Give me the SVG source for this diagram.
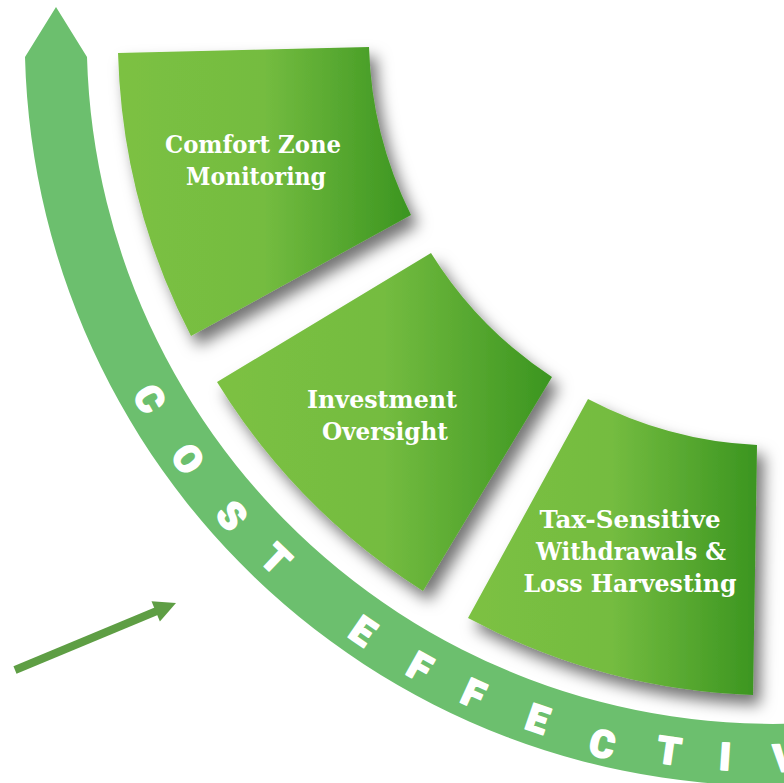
<svg xmlns="http://www.w3.org/2000/svg" width="784" height="783" viewBox="0 0 784 783">
  <style>
    .tile { fill: url(#tg); filter: url(#sh); }
    .lbl { font-family: "DejaVu Serif", "Liberation Serif", serif; font-weight: bold; font-size: 24px; fill: #ffffff; text-anchor: middle; }
    .band { fill: #6cbf6e; }
    .ltr { font-family: Roboto, "Open Sans", "DejaVu Sans", sans-serif; font-weight: 900; font-size: 38px; fill: #ffffff; stroke: #ffffff; stroke-width: 1.6px; stroke-linejoin: round; text-anchor: middle; }
  </style>
  <defs>
    <linearGradient id="tg" x1="0" y1="0" x2="1" y2="0">
      <stop offset="0" stop-color="#7cc143"/>
      <stop offset="0.5" stop-color="#74bc40"/>
      <stop offset="1" stop-color="#3b9520"/>
    </linearGradient>
    <filter id="sh" x="-20%" y="-20%" width="150%" height="150%">
      <feDropShadow dx="7" dy="10" stdDeviation="7.5" flood-color="#000000" flood-opacity="0.55"/>
    </filter>
  </defs>
  <rect width="784" height="783" fill="#ffffff"/>

  <g id="band">
    <path class="band" d="M25,57 L56,7 L87,57 A686,686 0 0 0 891.1,713.6 L901.9,774.6 A748,748 0 0 1 25,57 Z"/>
    <g id="band-label">
      <text class="ltr" transform="translate(149.7,398.8) rotate(59.83)" y="13.5">C</text>
      <text class="ltr" transform="translate(188.0,458.8) rotate(54.23)" y="13.5">O</text>
      <text class="ltr" transform="translate(231.8,515.4) rotate(48.56)" y="13.5">S</text>
      <text class="ltr" transform="translate(276.0,559.0) rotate(43.59)" y="13.5">T</text>
      <text class="ltr" transform="translate(362.8,631.0) rotate(34.55)" y="13.5">E</text>
      <text class="ltr" transform="translate(419.9,666.8) rotate(29.23)" y="13.5">F</text>
      <text class="ltr" transform="translate(473.5,693.4) rotate(24.47)" y="13.5">F</text>
      <text class="ltr" transform="translate(537.6,718.7) rotate(19.00)" y="13.5">E</text>
      <text class="ltr" transform="translate(602.2,743.7) rotate(13.56)" y="13.5">C</text>
      <text class="ltr" transform="translate(669.1,750.6) rotate(8.21)" y="13.5">T</text>
      <text class="ltr" transform="translate(725.0,756.5) rotate(3.74)" y="13.5">I</text>
      <text class="ltr" transform="translate(785.0,757.9) rotate(-1.04)" y="13.5">V</text>
    </g>
  </g>

  <g id="node-comfort">
    <path class="tile" d="M118,53 L369,47 A403,403 0 0 0 411,215 L191,336 A654,654 0 0 1 118,53 Z"/>
    <text class="lbl" x="253" y="153" textLength="176" lengthAdjust="spacingAndGlyphs">Comfort Zone</text>
    <text class="lbl" x="256" y="185" textLength="140" lengthAdjust="spacingAndGlyphs">Monitoring</text>
  </g>

  <g id="node-investment">
    <path class="tile" d="M217,382 L431,253 A403,403 0 0 0 552,377 L423,591 A654,654 0 0 1 217,382 Z"/>
    <text class="lbl" x="382" y="408" textLength="150" lengthAdjust="spacingAndGlyphs">Investment</text>
    <text class="lbl" x="385" y="440" textLength="126" lengthAdjust="spacingAndGlyphs">Oversight</text>
  </g>

  <g id="node-tax">
    <path class="tile" d="M468,618 L588,399 A405,405 0 0 0 757,445 L753,695 A656,656 0 0 1 468,618 Z"/>
    <text class="lbl" x="630" y="528" textLength="181" lengthAdjust="spacingAndGlyphs">Tax-Sensitive</text>
    <text class="lbl" x="631" y="560" textLength="190" lengthAdjust="spacingAndGlyphs">Withdrawals &amp;</text>
    <text class="lbl" x="630" y="592" textLength="213" lengthAdjust="spacingAndGlyphs">Loss Harvesting</text>
  </g>

  <g id="connectors">
    <line x1="15" y1="670" x2="158" y2="610.5" stroke="#5e9e44" stroke-width="8"/>
    <polygon points="176,603 151.5,601.3 159.9,621.6" fill="#5e9e44"/>
  </g>
</svg>
